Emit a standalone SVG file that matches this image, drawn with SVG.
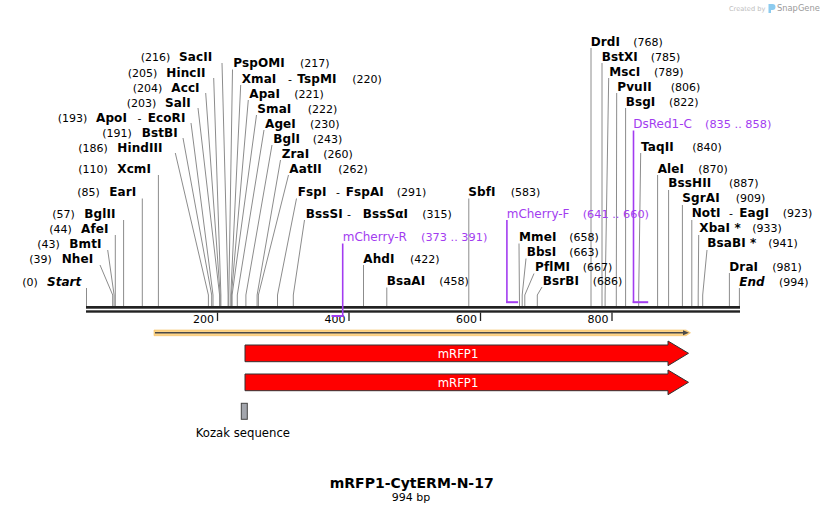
<svg xmlns="http://www.w3.org/2000/svg" width="826" height="514" viewBox="0 0 826 514">
<style>
.n{font-family:"DejaVu Sans",Verdana,sans-serif;font-size:12px;font-weight:bold;letter-spacing:0.1px;fill:#000}
.ni{font-family:"DejaVu Sans",Verdana,sans-serif;font-size:12px;font-weight:bold;font-style:italic;fill:#000}
.p{font-family:"DejaVu Sans",Verdana,sans-serif;font-size:11px;fill:#000}
.f{font-family:"DejaVu Sans",Verdana,sans-serif;font-size:12px;fill:#a23cf0}
.fp{font-family:"DejaVu Sans",Verdana,sans-serif;font-size:11.3px;fill:#a23cf0}
.ln{stroke:#8c8c8c;stroke-width:1;fill:none}
.pl{stroke:#a23cf0;stroke-width:1.6;fill:none}
.pb{fill:#a23cf0}
.w{font-family:"DejaVu Sans",Verdana,sans-serif;font-size:11.7px;fill:#fff;text-anchor:middle}
.arr{fill:#ff0000;stroke:#333;stroke-width:1}
.t{font-family:"DejaVu Sans",Verdana,sans-serif;font-size:11px;fill:#000;text-anchor:end}
</style>
<rect width="826" height="514" fill="#fff"/>
<g id="logo">
<text x="729" y="10.5" style="font-family:'DejaVu Sans',sans-serif;font-size:6.6px;fill:#bdbdbd">Created by</text>
<path d="M768.5 4 h4 a3 3 0 0 1 0 6 h-1.5 v3 h-2.5 z" fill="#8ccbef"/>
<text x="777" y="11" style="font-family:'DejaVu Sans',sans-serif;font-size:8.3px;fill:#9a9a9a">SnapGene</text>
</g>
<g id="connectors">
<polyline class="ln" points="222,63 228.1,295 228.1,306"/>
<polyline class="ln" points="213.7,78 220.9,295 220.9,306"/>
<polyline class="ln" points="205.7,93 220.2,295 220.2,306"/>
<polyline class="ln" points="198,108 219.6,295 219.6,306"/>
<polyline class="ln" points="191,123 213,295 213,306"/>
<polyline class="ln" points="183,138 211.7,295 211.7,306"/>
<polyline class="ln" points="175.3,153 208.4,295 208.4,306"/>
<line class="ln" x1="158.4" y1="175" x2="158.4" y2="306"/>
<line class="ln" x1="142.3" y1="198.5" x2="142.3" y2="306"/>
<line class="ln" x1="123.6" y1="220" x2="123.6" y2="306"/>
<line class="ln" x1="115.3" y1="235" x2="115.3" y2="306"/>
<polyline class="ln" points="107.7,250 114.1,295 114.1,306"/>
<polyline class="ln" points="100,265 112.7,295 112.7,306"/>
<line class="ln" x1="86.5" y1="288" x2="86.5" y2="306"/>
<polyline class="ln" points="232.5,69.5 228.8,295 228.8,306"/>
<polyline class="ln" points="240.7,85 230.8,295 230.8,306"/>
<polyline class="ln" points="248.3,100 231.4,295 231.4,306"/>
<polyline class="ln" points="256.5,115 232.1,295 232.1,306"/>
<polyline class="ln" points="264,130 237.3,295 237.3,306"/>
<polyline class="ln" points="272,145 245.9,295 245.9,306"/>
<polyline class="ln" points="280.5,160 257.1,295 257.1,306"/>
<polyline class="ln" points="288.5,175 258.4,295 258.4,306"/>
<polyline class="ln" points="296.5,198.5 277.5,295 277.5,306"/>
<polyline class="ln" points="304.5,220 293.3,295 293.3,306"/>
<line class="ln" x1="363.5" y1="265" x2="363.5" y2="306"/>
<line class="ln" x1="386.8" y1="287.5" x2="386.8" y2="306"/>
<line class="ln" x1="468.8" y1="198.5" x2="468.8" y2="306"/>
<line class="ln" x1="519" y1="243.5" x2="519.5" y2="306"/>
<polyline class="ln" points="526,258.5 522.2,295 522.2,306"/>
<polyline class="ln" points="534,273.5 524.8,295 524.8,306"/>
<polyline class="ln" points="542,287 537.3,295 537.3,306"/>
<line class="ln" x1="591" y1="48" x2="591" y2="306"/>
<line class="ln" x1="602" y1="63" x2="602" y2="306"/>
<polyline class="ln" points="608.7,78 605.1,295 605.1,306"/>
<polyline class="ln" points="616.7,93 616.3,295 616.3,306"/>
<line class="ln" x1="625.6" y1="108" x2="625.6" y2="306"/>
<polyline class="ln" points="640.7,153 638.7,295 638.7,306"/>
<line class="ln" x1="657.6" y1="175" x2="657.6" y2="306"/>
<line class="ln" x1="668.6" y1="190" x2="668.6" y2="306"/>
<line class="ln" x1="682.4" y1="205" x2="682.4" y2="306"/>
<line class="ln" x1="691.8" y1="220" x2="691.8" y2="306"/>
<polyline class="ln" points="698.7,235 698.2,295 698.2,306"/>
<polyline class="ln" points="707,250 702.7,295 702.7,306"/>
<line class="ln" x1="729.4" y1="273" x2="729.4" y2="306"/>
<line class="ln" x1="739.4" y1="288" x2="739.4" y2="306"/>
</g>
<g id="backbone">
<rect x="86" y="306" width="654" height="2.7" fill="#222"/>
<rect x="86" y="310.3" width="654" height="2.4" fill="#222"/>
<g stroke="#222" stroke-width="1.3">
<line x1="217.5" y1="312.5" x2="217.5" y2="321"/>
<line x1="349" y1="312.5" x2="349" y2="321"/>
<line x1="480.5" y1="312.5" x2="480.5" y2="321"/>
<line x1="612" y1="312.5" x2="612" y2="321"/>
</g>
<text class="t" x="214" y="322.5">200</text>
<text class="t" x="345.5" y="322.5">400</text>
<text class="t" x="477" y="322.5">600</text>
<text class="t" x="608.5" y="322.5">800</text>
</g>
<g id="site-SacII"><text class="p" x="140.7" y="61">(216)</text><text class="n" x="179" y="61">SacII</text></g>
<g id="site-HincII"><text class="p" x="127.7" y="76.5">(205)</text><text class="n" x="166.3" y="76.5">HincII</text></g>
<g id="site-AccI"><text class="p" x="132.7" y="91.5">(204)</text><text class="n" x="171.3" y="91.5">AccI</text></g>
<g id="site-SalI"><text class="p" x="126.7" y="106.5">(203)</text><text class="n" x="165" y="106.5">SalI</text></g>
<g id="site-ApoI-EcoRI"><text class="p" x="57.7" y="121.5">(193)</text><text class="n" x="96" y="121.5">ApoI</text><text class="p" x="137.5" y="121.5">-</text><text class="n" x="147.7" y="121.5">EcoRI</text></g>
<g id="site-BstBI"><text class="p" x="102.3" y="136.5">(191)</text><text class="n" x="141.7" y="136.5">BstBI</text></g>
<g id="site-HindIII"><text class="p" x="78.3" y="151.5">(186)</text><text class="n" x="117.3" y="151.5">HindIII</text></g>
<g id="site-XcmI"><text class="p" x="78.3" y="173">(110)</text><text class="n" x="117.3" y="173">XcmI</text></g>
<g id="site-EarI"><text class="p" x="77.3" y="196">(85)</text><text class="n" x="109.3" y="196">EarI</text></g>
<g id="site-BglII"><text class="p" x="52.3" y="217.5">(57)</text><text class="n" x="84.3" y="217.5">BglII</text></g>
<g id="site-AfeI"><text class="p" x="49.3" y="233">(44)</text><text class="n" x="81" y="233">AfeI</text></g>
<g id="site-BmtI"><text class="p" x="37.3" y="248">(43)</text><text class="n" x="69.3" y="248">BmtI</text></g>
<g id="site-NheI"><text class="p" x="29.3" y="263">(39)</text><text class="n" x="61.7" y="263">NheI</text></g>
<g id="site-Start"><text class="p" x="22.3" y="286">(0)</text><text class="ni" x="47" y="286">Start</text></g>
<g id="site-PspOMI"><text class="n" x="233.3" y="67">PspOMI</text><text class="p" x="300" y="67">(217)</text></g>
<g id="site-XmaI-TspMI"><text class="n" x="241.7" y="82.5">XmaI</text><text class="p" x="288" y="82.5">-</text><text class="n" x="297.3" y="82.5">TspMI</text><text class="p" x="352.3" y="82.5">(220)</text></g>
<g id="site-ApaI"><text class="n" x="249.3" y="97.5">ApaI</text><text class="p" x="294.3" y="97.5">(221)</text></g>
<g id="site-SmaI"><text class="n" x="257.3" y="112.5">SmaI</text><text class="p" x="307.7" y="112.5">(222)</text></g>
<g id="site-AgeI"><text class="n" x="265" y="127.5">AgeI</text><text class="p" x="310" y="127.5">(230)</text></g>
<g id="site-BglI"><text class="n" x="273.3" y="142.5">BglI</text><text class="p" x="312.7" y="142.5">(243)</text></g>
<g id="site-ZraI"><text class="n" x="281.7" y="157.5">ZraI</text><text class="p" x="323.3" y="157.5">(260)</text></g>
<g id="site-AatII"><text class="n" x="289.3" y="172.5">AatII</text><text class="p" x="338.3" y="172.5">(262)</text></g>
<g id="site-FspI-FspAI"><text class="n" x="297.7" y="196">FspI</text><text class="p" x="336" y="196">-</text><text class="n" x="345.7" y="196">FspAI</text><text class="p" x="396.7" y="196">(291)</text></g>
<g id="site-BssSI-BssSaI"><text class="n" x="305.7" y="217.5">BssSI</text><text class="p" x="347" y="217.5">-</text><text class="n" x="362.7" y="217.5">BssSαI</text><text class="p" x="422.3" y="217.5">(315)</text></g>
<g id="primer-mCherry-R"><text class="f" x="342.7" y="241">mCherry-R</text><text class="fp" x="421" y="241">(373 .. 391)</text><line class="pl" x1="342.7" y1="243.5" x2="342.7" y2="317"/><rect class="pb" x="331.5" y="315" width="12" height="2"/></g>
<g id="site-AhdI"><text class="n" x="363.3" y="262.5">AhdI</text><text class="p" x="410" y="262.5">(422)</text></g>
<g id="site-BsaAI"><text class="n" x="386.7" y="285.3">BsaAI</text><text class="p" x="439.3" y="285.3">(458)</text></g>
<g id="site-SbfI"><text class="n" x="468.3" y="196">SbfI</text><text class="p" x="510.7" y="196">(583)</text></g>
<g id="primer-mCherry-F"><text class="f" x="506.7" y="217.5">mCherry-F</text><text class="fp" x="582.7" y="217.5">(641 .. 660)</text><line class="pl" x1="506.9" y1="220" x2="506.9" y2="303"/><rect class="pb" x="506.1" y="301.2" width="12" height="2"/></g>
<g id="site-MmeI"><text class="n" x="519" y="241">MmeI</text><text class="p" x="569.3" y="241">(658)</text></g>
<g id="site-BbsI"><text class="n" x="526.7" y="256">BbsI</text><text class="p" x="569.3" y="256">(663)</text></g>
<g id="site-PflMI"><text class="n" x="535" y="271">PflMI</text><text class="p" x="582.7" y="271">(667)</text></g>
<g id="site-BsrBI"><text class="n" x="542.7" y="285">BsrBI</text><text class="p" x="592.7" y="285">(686)</text></g>
<g id="site-DrdI"><text class="n" x="590.7" y="45.7">DrdI</text><text class="p" x="633.3" y="45.7">(768)</text></g>
<g id="site-BstXI"><text class="n" x="601.7" y="60.7">BstXI</text><text class="p" x="650.7" y="60.7">(785)</text></g>
<g id="site-MscI"><text class="n" x="609.3" y="75.7">MscI</text><text class="p" x="654" y="75.7">(789)</text></g>
<g id="site-PvuII"><text class="n" x="617.3" y="90.7">PvuII</text><text class="p" x="670.7" y="90.7">(806)</text></g>
<g id="site-BsgI"><text class="n" x="625.7" y="105.7">BsgI</text><text class="p" x="669" y="105.7">(822)</text></g>
<g id="primer-DsRed1-C"><text class="f" x="633.3" y="128">DsRed1-C</text><text class="fp" x="705" y="128">(835 .. 858)</text><line class="pl" x1="633.5" y1="130.5" x2="633.5" y2="303"/><rect class="pb" x="632.7" y="301.2" width="15.5" height="2"/></g>
<g id="site-TaqII"><text class="n" x="641" y="150.7">TaqII</text><text class="p" x="692.3" y="150.7">(840)</text></g>
<g id="site-AleI"><text class="n" x="657.7" y="172.5">AleI</text><text class="p" x="698.3" y="172.5">(870)</text></g>
<g id="site-BssHII"><text class="n" x="668.3" y="187.3">BssHII</text><text class="p" x="729" y="187.3">(887)</text></g>
<g id="site-SgrAI"><text class="n" x="682.3" y="202.3">SgrAI</text><text class="p" x="735.7" y="202.3">(909)</text></g>
<g id="site-NotI-EagI"><text class="n" x="691.7" y="217.3">NotI</text><text class="p" x="729" y="217.3">-</text><text class="n" x="739.3" y="217.3">EagI</text><text class="p" x="782.7" y="217.3">(923)</text></g>
<g id="site-XbaI"><text class="n" x="699.3" y="232.3">XbaI *</text><text class="p" x="752.3" y="232.3">(933)</text></g>
<g id="site-BsaBI"><text class="n" x="707.3" y="247.3">BsaBI *</text><text class="p" x="768.3" y="247.3">(941)</text></g>
<g id="site-DraI"><text class="n" x="729.3" y="270.7">DraI</text><text class="p" x="772.3" y="270.7">(981)</text></g>
<g id="site-End"><text class="ni" x="739.3" y="285.7">End</text><text class="p" x="779" y="285.7">(994)</text></g>
<g id="orf">
<path d="M154 330 H686 L690.5 332.8 L686 335.7 H154 Z" fill="#fdd488" stroke="#f6c060" stroke-width="0.6"/>
<line x1="155" y1="332.8" x2="685" y2="332.8" stroke="#4a4a4a" stroke-width="1.4"/>
<path d="M683 330.3 L689 332.8 L683 335.3 Z" fill="#4a4a4a"/>
</g>
<g id="feature-mRFP1-a">
<polygon class="arr" points="245,345 668,345 668,341 688.5,353.3 668,365.7 668,361.7 245,361.7"/>
<text class="w" x="458" y="357.5">mRFP1</text>
</g>
<g id="feature-mRFP1-b">
<polygon class="arr" points="245,374 668,374 668,370 688.5,382.3 668,394.7 668,390.7 245,390.7"/>
<text class="w" x="458" y="386.5">mRFP1</text>
</g>
<g id="feature-Kozak">
<rect x="241.3" y="403.3" width="6" height="16" fill="#a3a6ad" stroke="#444" stroke-width="1"/>
<text x="195.7" y="437" style="font-family:'DejaVu Sans',Verdana,sans-serif;font-size:11.7px;fill:#000">Kozak sequence</text>
</g>
<g id="title">
<text x="411.7" y="488" text-anchor="middle" style="font-family:'DejaVu Sans',Verdana,sans-serif;font-size:14px;font-weight:bold;fill:#000">mRFP1-CytERM-N-17</text>
<text x="411" y="501" text-anchor="middle" style="font-family:'DejaVu Sans',Verdana,sans-serif;font-size:11px;fill:#000">994 bp</text>
</g>
</svg>
